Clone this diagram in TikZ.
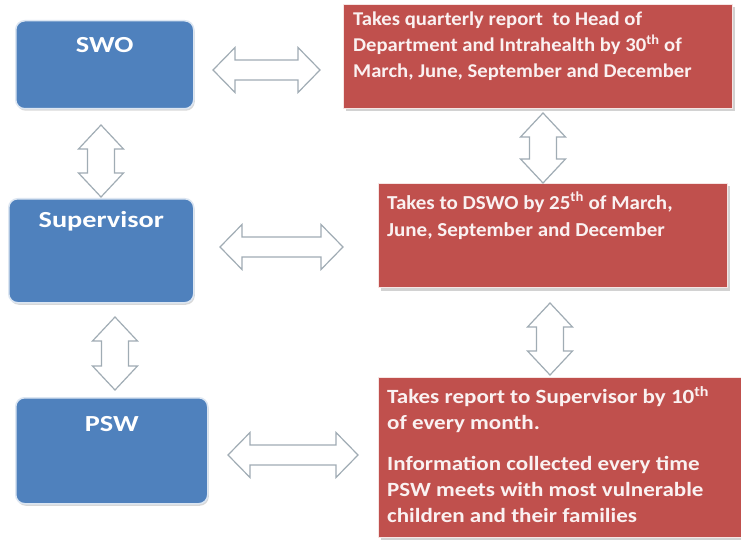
\documentclass[tikz,border=0pt]{standalone}
\usepackage{fontspec}
\setmainfont{Carlito}
\newfontfamily\widefont{Carlito}[FakeStretch=1.23]
\newfontfamily\redfont{Carlito}[FakeStretch=1.06]
\newfontfamily\redwidefont{Carlito}[FakeStretch=1.14]
\usetikzlibrary{calc,shadows}
\definecolor{boxblue}{RGB}{79,129,189}
\definecolor{boxred}{RGB}{192,80,77}
\definecolor{arrowline}{RGB}{160,172,180}

% horizontal block double arrow between two named tip coordinates
\newcommand{\hblock}[2]{%
  \draw[blockarrow] (#1) -- ++(22,-22.5) -- ++(0,12.5) -- ($(#2)+(-22,-10)$)
    -- ++(0,-12.5) -- (#2) -- ++(-22,22.5) -- ++(0,-12.5)
    -- ($(#1)+(22,10)$) -- ++(0,12.5) -- cycle;}
% vertical block double arrow between two named tip coordinates
\newcommand{\vblock}[2]{%
  \draw[blockarrow] (#1) -- ++(22.5,24) -- ++(-9,0) -- ($(#2)+(13.5,-24)$)
    -- ++(9,0) -- (#2) -- ++(-22.5,-24) -- ++(9,0)
    -- ($(#1)+(-13.5,24)$) -- ++(-9,0) -- cycle;}

\begin{document}
\begin{tikzpicture}[x=1pt,y=-1pt,
  bluebox/.style={draw=white!80!boxblue, line width=1.5pt, fill=boxblue,
    rounded corners=9pt, anchor=north west, inner sep=0pt,
    drop shadow={shadow xshift=1pt, shadow yshift=-2pt, opacity=0.3}},
  bluelabel/.style={anchor=north, inner sep=0pt, text=white,
    font=\widefont\fontsize{23}{26}\selectfont\bfseries},
  redbox/.style={draw=white!85!boxred, line width=1pt, fill=boxred,
    anchor=north west, inner sep=0pt,
    drop shadow={shadow xshift=2pt, shadow yshift=-3pt, opacity=0.35}},
  redlabel/.style={anchor=north west, xshift=10pt, yshift=-8pt, inner sep=0pt,
    text=white!92!boxred, align=left,
    font=\redfont\fontsize{19.5}{26}\selectfont\bfseries},
  blockarrow/.style={draw=arrowline, line width=1.2pt, fill=white, line join=miter},
]
\fill[white] (0,0) rectangle (741,540);
\useasboundingbox (0,0) rectangle (741,540);

% left column: roles
\node[bluebox, minimum width=178pt, minimum height=88pt,
  label={[bluelabel, yshift=-17pt]north:SWO}] (swo) at (15,20) {};
\node[bluebox, minimum width=185pt, minimum height=104pt,
  label={[bluelabel, yshift=-13pt]north:Supervisor}] (sup) at (8,198) {};
\node[bluebox, minimum width=192pt, minimum height=106pt,
  label={[bluelabel, yshift=-19pt]north:PSW}] (psw) at (15,397) {};

% right column: reporting duties
\node[redbox, minimum width=389pt, minimum height=104pt,
  label={[redlabel]north west:{Takes quarterly report\ \ to Head of\\
    Department and Intrahealth by 30\textsuperscript{th} of\\
    March, June, September and December}}] (r1) at (343,4) {};
\node[redbox, minimum width=349pt, minimum height=104pt,
  label={[redlabel, xshift=-1pt, yshift=-1pt,
    font=\redfont\fontsize{19.8}{27}\selectfont\bfseries]north west:{Takes to DSWO by 25\textsuperscript{th} of March,\\
    June, September and December}}] (r2) at (378,183) {};
\node[redbox, minimum width=365pt, minimum height=160pt,
  label={[redlabel, xshift=-1pt, yshift=-1pt,
    font=\redwidefont\fontsize{20.2}{26}\selectfont\bfseries]north west:{Takes report to Supervisor by 10\textsuperscript{th}\\
    of every month.\\[15pt]
    Information collected every time\\
    PSW meets with most vulnerable\\
    children and their families}}] (r3) at (378,377) {};

% arrow tips
\coordinate (h1a) at (213,70);  \coordinate (h1b) at (320,70);
\coordinate (h2a) at (220,247); \coordinate (h2b) at (343,247);
\coordinate (h3a) at (228,455); \coordinate (h3b) at (358,455);
\coordinate (v1a) at (101,125); \coordinate (v1b) at (101,197);
\coordinate (v2a) at (115,317); \coordinate (v2b) at (115,390);
\coordinate (v3a) at (543,113); \coordinate (v3b) at (543,183);
\coordinate (v4a) at (550,303); \coordinate (v4b) at (550,375);

\hblock{h1a}{h1b}
\hblock{h2a}{h2b}
\hblock{h3a}{h3b}
\vblock{v1a}{v1b}
\vblock{v2a}{v2b}
\vblock{v3a}{v3b}
\vblock{v4a}{v4b}
\end{tikzpicture}
\end{document}
